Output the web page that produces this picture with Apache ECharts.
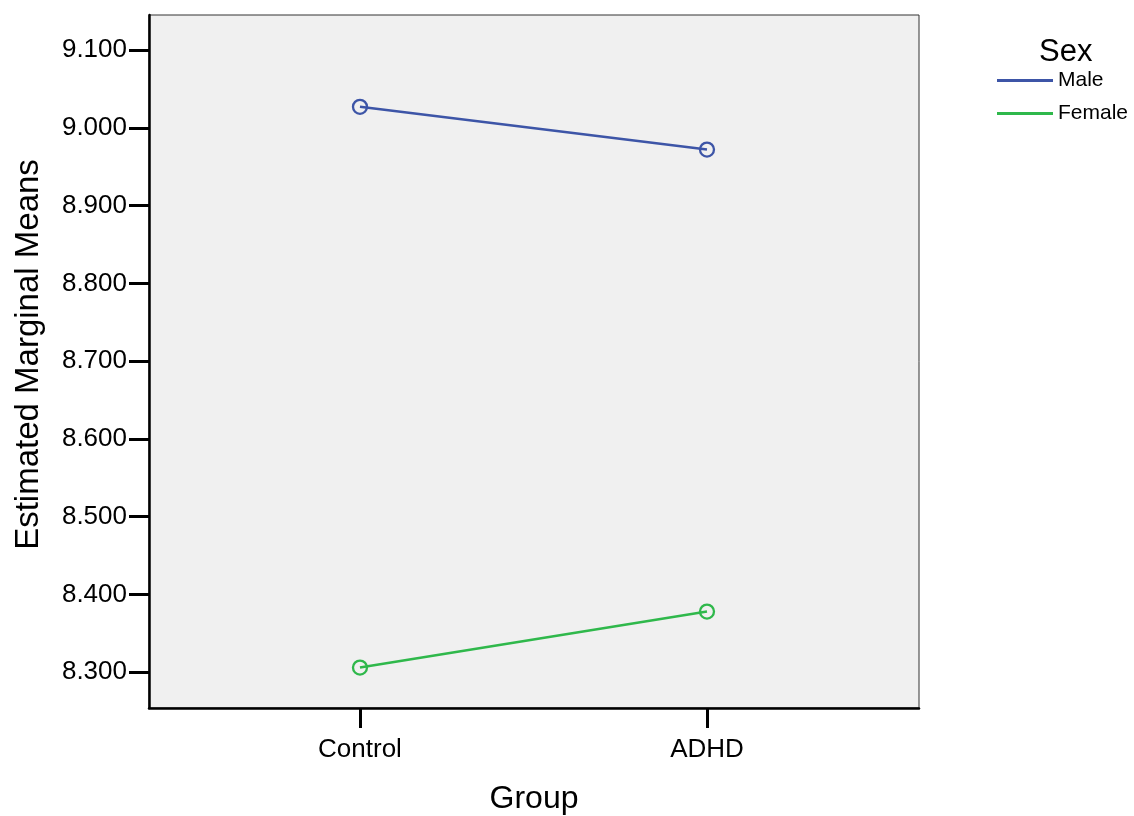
<!DOCTYPE html>
<html>
<head>
<meta charset="utf-8">
<script src="https://cdn.jsdelivr.net/npm/echarts@6/dist/echarts.min.js"></script>
<style>html,body{margin:0;padding:0;background:#fff}#c{width:1134px;height:816px}</style>
</head>
<body>
<div id="c"></div>
<script>
const categories = ['Control', 'ADHD'];
const maleValues = [9.027, 8.972];
const femaleValues = [8.306, 8.378];
const yTicks = [8.3, 8.4, 8.5, 8.6, 8.7, 8.8, 8.9, 9.0, 9.1];
const seriesNames = ['Male', 'Female'];
const colors = ['#3d55a7', '#2fb84b'];

const chart = echarts.init(document.getElementById('c'));
const font = 'Liberation Sans, Arial, sans-serif';
const toPts = vals => vals.map((v, i) => [i + 1, v]);

function mkSeries(name, vals, color) {
  return {
    name: name,
    type: 'line',
    data: toPts(vals),
    symbol: 'circle',
    symbolSize: 14,
    lineStyle: { color: color, width: 2.5 },
    itemStyle: { color: 'rgba(0,0,0,0)', borderColor: color, borderWidth: 2.3 },
    emphasis: { disabled: true },
    z: 3
  };
}

chart.setOption({
  animation: false,
  title: {
    text: 'Sex', left: 1034, top: 32,
    textStyle: { fontFamily: font, fontSize: 31, fontWeight: 'normal', color: '#000' }
  },
  legend: {
    orient: 'vertical', left: 992, top: 65, itemGap: 12,
    itemWidth: 56, itemHeight: 3,
    textStyle: { fontFamily: font, fontSize: 21, color: '#000' },
    data: seriesNames.map((n, i) => ({ name: n, icon: 'rect', itemStyle: { color: colors[i], borderWidth: 0 } })),
    selectedMode: false
  },
  grid: {
    left: 149, right: 215, top: 15, bottom: 108,
    outerBoundsMode: 'none', containLabel: false,
    show: true, backgroundColor: '#f0f0f0', borderColor: '#333', borderWidth: 1
  },
  xAxis: {
    type: 'value', min: 0.392, max: 2.611,
    name: 'Group', nameLocation: 'middle', nameGap: 75,
    nameTextStyle: { fontFamily: font, fontSize: 32, color: '#000' },
    axisLine: { show: true, lineStyle: { color: '#000', width: 2.5 } },
    axisTick: { show: true, length: 20, customValues: [1, 2], lineStyle: { color: '#000', width: 3 } },
    axisLabel: {
      customValues: [1, 2], margin: 29,
      formatter: v => categories[Math.round(v) - 1] || '',
      fontFamily: font, fontSize: 26, color: '#000'
    },
    splitLine: { show: false }
  },
  yAxis: {
    type: 'value', min: 8.254, max: 9.145,
    name: 'Estimated Marginal Means', nameLocation: 'middle', nameGap: 104, nameRotate: 90,
    nameTextStyle: { fontFamily: font, fontSize: 33, color: '#000', padding: [0, 0, 0, 14] },
    axisLine: { show: true, lineStyle: { color: '#000', width: 2.5 } },
    axisTick: { show: true, length: 20, customValues: yTicks, lineStyle: { color: '#000', width: 3 } },
    axisLabel: {
      customValues: yTicks, margin: 22,
      formatter: v => v.toFixed(3),
      fontFamily: font, fontSize: 26, color: '#000'
    },
    splitLine: { show: false }
  },
  series: [
    mkSeries(seriesNames[0], maleValues, colors[0]),
    mkSeries(seriesNames[1], femaleValues, colors[1])
  ]
});
</script>
</body>
</html>
